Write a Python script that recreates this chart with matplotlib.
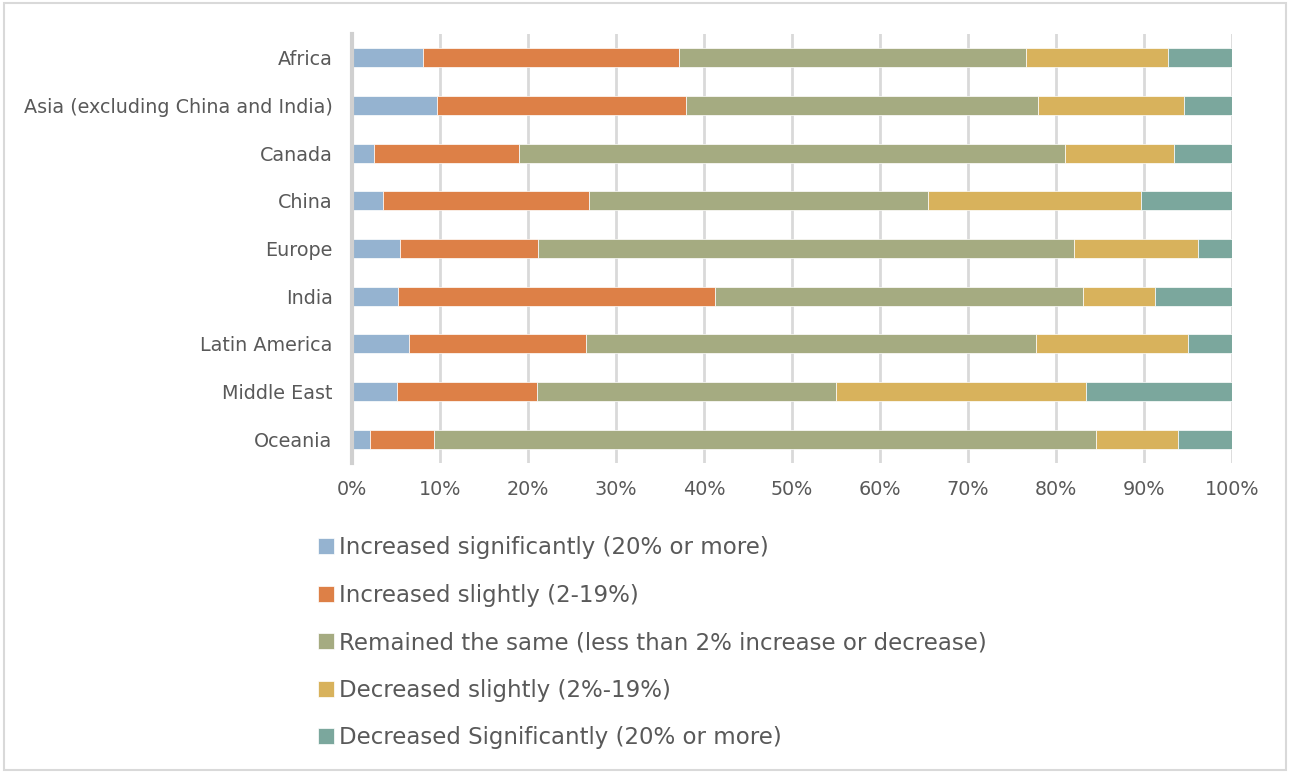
import numpy as np
import matplotlib.pyplot as plt
from matplotlib.patches import Rectangle

regions = ['Africa', 'Asia (excluding China and India)', 'Canada', 'China', 'Europe',
           'India', 'Latin America', 'Middle East', 'Oceania']

inc_sig = [8.1, 9.7, 2.5, 3.5, 5.5, 5.2, 6.5, 5.1, 2.1]
inc_slight = [29.1, 28.2, 16.5, 23.4, 15.6, 36.0, 20.1, 15.9, 7.2]
same = [39.4, 40.0, 62.0, 38.6, 60.9, 41.9, 51.1, 34.0, 75.2]
dec_slight = [16.1, 16.6, 12.4, 24.2, 14.1, 8.1, 17.3, 28.4, 9.4]
dec_sig = [7.3, 5.5, 6.6, 10.3, 3.9, 8.8, 5.0, 16.6, 6.1]

labels = ['Increased significantly (20% or more)',
          'Increased slightly (2-19%)',
          'Remained the same (less than 2% increase or decrease)',
          'Decreased slightly (2%-19%)',
          'Decreased Significantly (20% or more)']
colors = ['#95b3d0', '#dd8047', '#a5ab81', '#d8b25c', '#7ba79d']

txt = '#595959'
plt.rcParams['font.family'] = ['DejaVu Sans']

fig = plt.figure(figsize=(12.9, 7.72), dpi=100)
ax = fig.add_axes([352 / 1290, 1 - 463 / 772, 880 / 1290, 429 / 772])

series = [inc_sig, inc_slight, same, dec_slight, dec_sig]
y = np.arange(len(regions))
left = np.zeros(len(regions))
for vals, lab, col in zip(series, labels, colors):
    vals = np.array(vals)
    ax.barh(y, vals / 100, left=left / 100, height=0.4, color=col, label=lab,
            edgecolor='white', linewidth=0.5, zorder=3)
    left += vals

ax.set_ylim(len(regions) - 0.5, -0.5)
ax.set_xlim(0, 1)
ax.set_xticks(np.linspace(0, 1, 11))
ax.set_xticklabels([f'{i}%' for i in range(0, 101, 10)])
ax.set_yticks(y)
ax.set_yticklabels(regions)
ax.tick_params(axis='both', length=0, colors=txt, labelsize=13.8)
ax.tick_params(axis='x', pad=12)
ax.tick_params(axis='y', pad=14)
ax.grid(axis='x', color='#d9d9d9', linewidth=2, zorder=0)
for s in ['top', 'right', 'bottom']:
    ax.spines[s].set_visible(False)
ax.spines['left'].set_color('#d0d0d0')
ax.spines['left'].set_linewidth(3)
ax.spines['left'].set_zorder(4)

fig.legend(loc='upper left', bbox_to_anchor=(309 / 1290, 1 - 527 / 772), frameon=False,
           fontsize=16.5, labelcolor=txt, handlelength=0.7, handleheight=0.7,
           handletextpad=0.22, labelspacing=1.07, borderaxespad=0)

fig.patches.append(Rectangle((4 / 1290, 2 / 772), 1282 / 1290, 767 / 772,
                             transform=fig.transFigure, fill=False,
                             edgecolor='#d9d9d9', linewidth=1.5))

fig.savefig('out.png', dpi=100)
